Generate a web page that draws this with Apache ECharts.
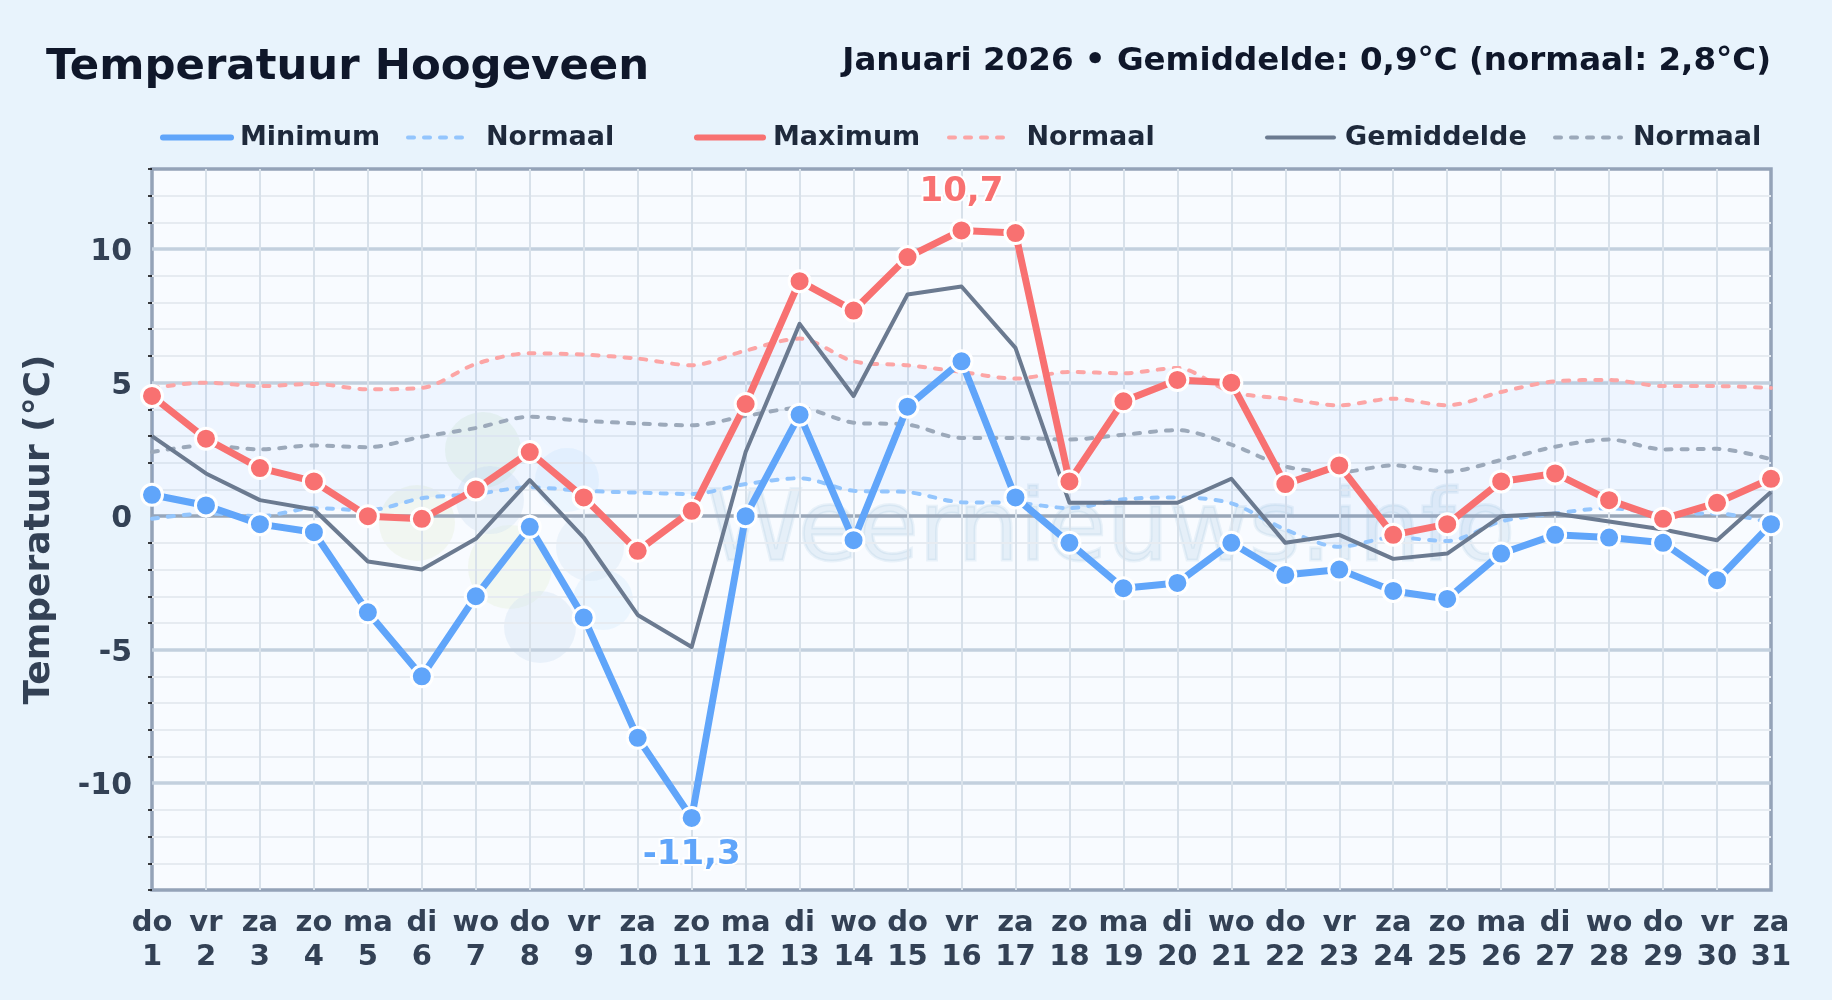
<!DOCTYPE html>
<html><head><meta charset="utf-8">
<style>html,body{margin:0;padding:0;background:#e8f3fc}#c{width:1832px;height:1000px}</style>
<script src="https://cdn.jsdelivr.net/npm/echarts@6/dist/echarts.min.js"></script>
</head><body><div id="c"></div>
<script>
const weekdays = ['do','vr','za','zo','ma','di','wo','do','vr','za','zo','ma','di','wo','do','vr','za','zo','ma','di','wo','do','vr','za','zo','ma','di','wo','do','vr','za'];
const days = [1,2,3,4,5,6,7,8,9,10,11,12,13,14,15,16,17,18,19,20,21,22,23,24,25,26,27,28,29,30,31];
const minimum = [0.8,0.4,-0.3,-0.6,-3.6,-6.0,-3.0,-0.4,-3.8,-8.3,-11.3,0.0,3.8,-0.9,4.1,5.8,0.7,-1.0,-2.7,-2.5,-1.0,-2.2,-2.0,-2.8,-3.1,-1.4,-0.7,-0.8,-1.0,-2.4,-0.3];
const maximum = [4.5,2.9,1.8,1.3,0.0,-0.1,1.0,2.4,0.7,-1.3,0.2,4.2,8.8,7.7,9.7,10.7,10.6,1.3,4.3,5.1,5.0,1.2,1.9,-0.7,-0.3,1.3,1.6,0.6,-0.1,0.5,1.4];
const gemiddelde = [3.0,1.6,0.6,0.25,-1.7,-2.0,-0.85,1.35,-0.8,-3.7,-4.9,2.4,7.2,4.5,8.3,8.6,6.3,0.5,0.5,0.5,1.4,-1.0,-0.7,-1.6,-1.4,0.0,0.1,-0.2,-0.5,-0.9,0.9];
const normaalMin = [-0.1,0.1,0.0,0.3,0.22,0.67,0.83,1.08,0.95,0.88,0.83,1.2,1.42,0.95,0.9,0.52,0.5,0.3,0.63,0.7,0.48,-0.5,-1.15,-0.8,-0.93,-0.2,0.1,0.3,0.1,0.1,-0.25];
const normaalMax = [4.8,5.0,4.87,4.95,4.75,4.8,5.7,6.1,6.05,5.9,5.65,6.2,6.65,5.8,5.65,5.4,5.15,5.4,5.35,5.55,4.65,4.4,4.15,4.4,4.15,4.65,5.05,5.1,4.87,4.87,4.8];
const normaalGem = [2.4,2.65,2.5,2.65,2.58,2.97,3.3,3.72,3.57,3.47,3.4,3.75,4.05,3.5,3.43,2.93,2.93,2.87,3.05,3.22,2.68,1.86,1.65,1.9,1.67,2.1,2.6,2.87,2.5,2.52,2.13];
const majorTicks = [-10,-5,0,5,10];
const minorTicks = [-14,-13,-12,-11,-9,-8,-7,-6,-4,-3,-2,-1,1,2,3,4,6,7,8,9,11,12,13];
const title = 'Temperatuur Hoogeveen';
const subtitle = 'Januari 2026 \u2022 Gemiddelde: 0,9\u00B0C (normaal: 2,8\u00B0C)';
const yName = 'Temperatuur (\u00B0C)';
const watermark = 'Weernieuws.info';

const FONT = '"DejaVu Sans"';
const N_MIN='Normaal minimum', N_MAX='Normaal maximum', N_GEM='Normaal gemiddelde';
const bandBase = normaalMin;
const bandSpan = normaalMax.map((v,i)=>+(v-normaalMin[i]).toFixed(2));

function leg(name,left,w,gap,lw){
  return {show:true,left,top:124,padding:0,itemWidth:w,itemHeight:26,selectedMode:false,
    lineStyle:{width:lw,cap:'round'},
    data:[{name,itemStyle:{opacity:0}}],
    formatter:n=>n.indexOf('Normaal')===0?'Normaal':n,
    textStyle:{fontFamily:FONT,fontWeight:'bold',fontSize:27,color:'#1e293b',padding:[3,0,0,gap]}};
}
function line(name,data,color,width,z,extra){
  return Object.assign({name,type:'line',data,yAxisIndex:0,z,symbol:'none',
    lineStyle:{color,width,cap:'round',join:'round'},itemStyle:{color},emphasis:{disabled:true},silent:true},extra||{});
}
function dashed(name,data,color,z){
  return line(name,data,color,3.5,z,{smooth:0.3,lineStyle:{color,width:4,type:[6,10],cap:'round'}});
}
function marked(name,data,color,z,pointType,offset){
  return line(name,data,color,7,z,{symbol:'circle',symbolSize:21,showSymbol:true,showAllSymbol:true,
    itemStyle:{color,borderColor:'#ffffff',borderWidth:3},
    markPoint:{symbol:'circle',symbolSize:1,itemStyle:{color:'transparent'},silent:true,z:z+1,
      data:[{type:pointType,valueDim:'y'}],
      label:{show:true,position:'inside',offset:[0,offset],formatter:p=>String(p.value).replace('.',','),
        fontFamily:FONT,fontWeight:'bold',fontSize:34,color,textBorderColor:'#ffffff',textBorderWidth:4}}});
}
const blobs=[[483,450,38,'#d8ecd8'],[417,523,38,'#e4efd6'],[510,567,42,'#e6f0d8'],[540,627,36,'#cfe0f0'],[603,600,30,'#d4ebfb'],[567,480,32,'#d4ebfb'],[490,500,34,'#cfe0f0'],[590,547,34,'#d4e4f3']];

const chart=echarts.init(document.getElementById('c'),null,{renderer:'canvas',width:1832,height:1000});
chart.setOption({
  animation:false,
  backgroundColor:'#e8f3fc',
  textStyle:{fontFamily:FONT},
  title:[
    {text:title,left:46,top:46,padding:0,textStyle:{fontFamily:FONT,fontWeight:'bold',fontSize:43.4,color:'#0f172a'}},
    {text:subtitle,right:61,top:45,padding:0,textStyle:{fontFamily:FONT,fontWeight:'bold',fontSize:32.5,color:'#0f172a'}}
  ],
  legend:[
    leg('Minimum',160,68,4,6),leg(N_MIN,406,58,15,4),
    leg('Maximum',694,66,5,6),leg(N_MAX,947,60,12.5,4),
    leg('Gemiddelde',1265,67,6,4),leg(N_GEM,1553,66,7,4)
  ],
  grid:{left:152,right:61,top:169,height:721,show:true,backgroundColor:'#f8fbff',borderColor:'#94a3b8',borderWidth:3.5,containLabel:false},
  graphic:[
    {type:'group',z:1,silent:true,children:blobs.map(b=>({type:'circle',shape:{cx:b[0],cy:b[1],r:b[2]},style:{fill:b[3],opacity:0.35}}))
      .concat([{type:'text',style:{x:1111,y:584,text:watermark,align:'center',verticalAlign:'bottom',font:'98px "DejaVu Sans"',fill:'rgba(100,160,200,0.12)',stroke:'rgba(100,160,200,0.1)',lineWidth:3}}])}
  ],
  xAxis:{type:'category',boundaryGap:false,data:days.map((d,i)=>weekdays[i]+'\n'+d),
    axisLine:{show:false},axisTick:{show:false},
    splitLine:{show:true,interval:0,showMinLine:false,showMaxLine:false,lineStyle:{color:'#d8e1ea',width:2}},
    axisLabel:{interval:0,margin:16,fontFamily:FONT,fontWeight:'bold',fontSize:29,lineHeight:34,color:'#334155',hideOverlap:false,showMinLabel:true,showMaxLabel:true}},
  yAxis:[
    {type:'value',position:'left',min:-14,max:13,interval:1,
      name:yName,nameLocation:'middle',nameGap:94,nameRotate:90,
      nameTextStyle:{fontFamily:FONT,fontWeight:'bold',fontSize:36,color:'#334155'},
      axisLine:{show:false},
      axisTick:{show:true,customValues:minorTicks,length:4,lineStyle:{color:'#000000',width:1.5}},
      axisLabel:{show:false},
      splitLine:{show:true,showMinLine:false,showMaxLine:false,lineStyle:{color:'#e6ebf1',width:2}}},
    {type:'value',position:'left',min:-14,max:13,interval:1,
      axisLine:{show:false},
      axisTick:{show:false,customValues:majorTicks},
      axisLabel:{show:true,customValues:majorTicks,margin:20,verticalAlign:'top',lineHeight:7,fontFamily:FONT,fontWeight:'bold',fontSize:30,color:'#334155'},
      splitLine:{show:true,lineStyle:{color:['#c3d0de','#c3d0de','#9aa7b8','#c3d0de','#c3d0de'],width:3.5}}}
  ],
  series:[
    line('bandBase',bandBase,'transparent',0,1,{smooth:0.3,stack:'band',stackStrategy:'all',lineStyle:{opacity:0},areaStyle:{opacity:0}}),
    line('bandSpan',bandSpan,'transparent',0,1,{smooth:0.3,stack:'band',stackStrategy:'all',lineStyle:{opacity:0},areaStyle:{color:'rgba(59,130,246,0.075)'}}),
    dashed(N_MIN,normaalMin,'#93c5fd',3),
    dashed(N_MAX,normaalMax,'#fca5a5',3),
    dashed(N_GEM,normaalGem,'#9ca9ba',3),
    line('Gemiddelde',gemiddelde,'#64748b',4,4,{lineStyle:{color:'#6b7a90',width:4,join:'round'}}),
    marked('Minimum',minimum,'#60a5fa',5,'min',37),
    marked('Maximum',maximum,'#f87171',6,'max',-38)
  ]
});
</script></body></html>
